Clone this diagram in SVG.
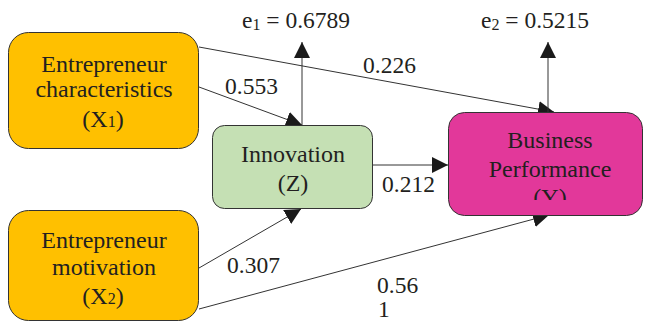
<svg xmlns="http://www.w3.org/2000/svg" width="652" height="322" viewBox="0 0 652 322">
<style>
text{font-family:'Liberation Serif','Times New Roman',serif;font-size:23.5px;fill:#231f20}
.c{text-anchor:middle;font-size:24px}
.sub{font-size:16px}
.box{stroke:#333;stroke-width:1}
.ln{stroke:#333;stroke-width:1;fill:none;marker-end:url(#ah)}
</style>
<defs>
<marker id="ah" markerUnits="userSpaceOnUse" markerWidth="16" markerHeight="16" refX="16" refY="8" orient="auto">
<path d="M0,0 L16,8 L0,16 z" fill="#1a1a1a"/>
</marker>
<clipPath id="clipY"><rect x="440" y="100" width="212" height="100"/></clipPath>
</defs>
<rect width="652" height="322" fill="#fff"/>
<g id="connectors">
<line class="ln" x1="199" y1="87" x2="302" y2="125"/>
<line class="ln" x1="199" y1="47" x2="554" y2="112"/>
<line class="ln" x1="373" y1="165" x2="448" y2="165"/>
<line class="ln" x1="199" y1="268" x2="301" y2="209"/>
<line class="ln" x1="199" y1="309" x2="549" y2="215"/>
<line class="ln" x1="302" y1="125" x2="302" y2="42"/>
<line class="ln" x1="548" y1="112" x2="548" y2="42"/>
<text x="225" y="94">0.553</text>
<text x="363" y="73">0.226</text>
<text x="382" y="192">0.212</text>
<text x="227" y="273">0.307</text>
<text x="377" y="293">0.56</text>
<text x="378" y="317">1</text>
</g>
<g id="e1">
<text x="242" y="28">e<tspan class="sub" dy="2">1</tspan><tspan dy="-2"> = 0.6789</tspan></text>
</g>
<g id="e2">
<text x="481" y="28">e<tspan class="sub" dy="2">2</tspan><tspan dy="-2"> = 0.5215</tspan></text>
</g>
<g id="X1">
<rect class="box" x="8.5" y="32.5" width="190" height="116" rx="20" fill="#ffc000"/>
<text class="c" x="104" y="72">Entrepreneur</text>
<text class="c" x="104" y="97">characteristics</text>
<text class="c" x="103" y="127">(X<tspan class="sub">1</tspan>)</text>
</g>
<g id="X2">
<rect class="box" x="8.5" y="210.5" width="190" height="110" rx="20" fill="#ffc000"/>
<text class="c" x="104" y="248">Entrepreneur</text>
<text class="c" x="104" y="275">motivation</text>
<text class="c" x="103" y="304">(X<tspan class="sub">2</tspan>)</text>
</g>
<g id="Z">
<rect class="box" x="212.5" y="125.5" width="160" height="83" rx="12" fill="#c5e0b4"/>
<text class="c" x="293" y="162">Innovation</text>
<text class="c" x="293" y="191">(Z)</text>
</g>
<g id="Y">
<rect class="box" x="448.5" y="112.5" width="194" height="103" rx="16" fill="#e2389a"/>
<text class="c" x="550" y="148">Business</text>
<text class="c" x="550" y="177">Performance</text>
<text class="c" x="550" y="205" clip-path="url(#clipY)">(Y)</text>
</g>
</svg>
